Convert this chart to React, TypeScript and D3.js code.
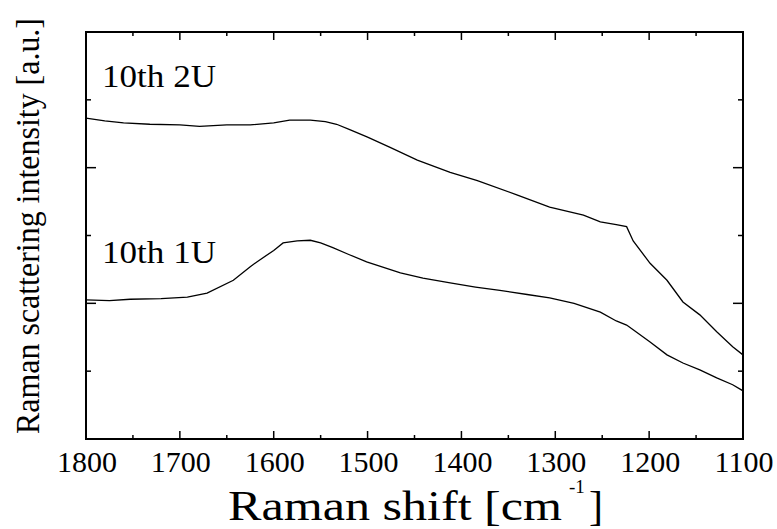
import React from "react";
import * as d3 from "d3";

const shift2U = [1800, 1780, 1760, 1732, 1700, 1679, 1650, 1625, 1600, 1583, 1561, 1545, 1533, 1519, 1500, 1476, 1447, 1412, 1383, 1341, 1306, 1270, 1252, 1235, 1224, 1217, 1199, 1181, 1164, 1146, 1128, 1111, 1100];
const intensity2U = [4.73, 4.69, 4.66, 4.64, 4.63, 4.61, 4.63, 4.63, 4.66, 4.70, 4.70, 4.68, 4.64, 4.56, 4.45, 4.30, 4.11, 3.93, 3.81, 3.60, 3.42, 3.30, 3.20, 3.16, 3.13, 2.92, 2.59, 2.34, 2.02, 1.83, 1.58, 1.36, 1.24];

const shift1U = [1800, 1775, 1753, 1720, 1692, 1671, 1643, 1625, 1618, 1600, 1590, 1575, 1561, 1550, 1537, 1520, 1501, 1465, 1441, 1412, 1385, 1359, 1330, 1306, 1280, 1252, 1235, 1224, 1217, 1199, 1181, 1164, 1146, 1128, 1111, 1100];
const intensity1U = [2.05, 2.04, 2.06, 2.07, 2.09, 2.15, 2.34, 2.54, 2.61, 2.78, 2.89, 2.92, 2.93, 2.89, 2.82, 2.72, 2.61, 2.45, 2.37, 2.30, 2.24, 2.19, 2.13, 2.08, 2.00, 1.87, 1.74, 1.68, 1.61, 1.43, 1.24, 1.12, 1.02, 0.90, 0.80, 0.71];

const xMajorTicks = [1800, 1700, 1600, 1500, 1400, 1300, 1200, 1100];
const xMinorTicks = [1750, 1650, 1550, 1450, 1350, 1250, 1150];
const yMajorTicks = [2, 4];
const yMinorTicks = [1, 3, 5];

const seriesLabels = ["10th 2U", "10th 1U"];

const W = 777;
const H = 529;
const L = 86, R = 743, T = 32, B = 439;
const FONT = "'Liberation Serif', 'Times New Roman', serif";

export default function App() {
  const x = d3.scaleLinear().domain([1800, 1100]).range([L, R]);
  const y = d3.scaleLinear().domain([0, 6]).range([B, T]);
  const line = d3
    .line<[number, number]>()
    .x((d) => x(d[0]))
    .y((d) => y(d[1]));
  const d2 = line(shift2U.map((s, i) => [s, intensity2U[i]] as [number, number])) || "";
  const d1 = line(shift1U.map((s, i) => [s, intensity1U[i]] as [number, number])) || "";

  return (
    <svg
      width={W}
      height={H}
      style={{ position: "absolute", left: 0, top: 0, background: "#fff" }}
      fontFamily={FONT}
    >
      <rect x={0} y={0} width={W} height={H} fill="#fff" />
      <defs>
        <clipPath id="plot">
          <rect x={L} y={T} width={R - L} height={B - T} />
        </clipPath>
      </defs>
      <g clipPath="url(#plot)" fill="none" stroke="#000" strokeWidth={1.3}>
        <path d={d2} />
        <path d={d1} />
      </g>
      <g stroke="#000" strokeWidth={1.5}>
        {xMajorTicks.map((t) => (
          <g key={"xM" + t}>
            <line x1={x(t)} x2={x(t)} y1={B} y2={B - 8} />
            <line x1={x(t)} x2={x(t)} y1={T} y2={T + 8} />
          </g>
        ))}
        {xMinorTicks.map((t) => (
          <g key={"xm" + t}>
            <line x1={x(t)} x2={x(t)} y1={B} y2={B - 4} />
            <line x1={x(t)} x2={x(t)} y1={T} y2={T + 4} />
          </g>
        ))}
        {yMajorTicks.map((t) => (
          <g key={"yM" + t}>
            <line x1={L} x2={L + 10} y1={y(t)} y2={y(t)} />
            <line x1={R} x2={R - 10} y1={y(t)} y2={y(t)} />
          </g>
        ))}
        {yMinorTicks.map((t) => (
          <g key={"ym" + t}>
            <line x1={L} x2={L + 5} y1={y(t)} y2={y(t)} />
            <line x1={R} x2={R - 5} y1={y(t)} y2={y(t)} />
          </g>
        ))}
      </g>
      <rect x={L} y={T} width={R - L} height={B - T} fill="none" stroke="#000" strokeWidth={2} />
      <g fontSize={30} textAnchor="middle" fill="#000">
        {xMajorTicks.map((t) => (
          <text key={"lab" + t} x={x(t) + 1} y={472}>
            {t}
          </text>
        ))}
      </g>
      <text x={102} y={87} fontSize={32} textLength={114} lengthAdjust="spacingAndGlyphs">
        {seriesLabels[0]}
      </text>
      <text x={102} y={263} fontSize={32} textLength={114} lengthAdjust="spacingAndGlyphs">
        {seriesLabels[1]}
      </text>
      <text x={228} y={520} fontSize={42} textLength={334} lengthAdjust="spacingAndGlyphs">
        Raman shift [cm
      </text>
      <text x={569} y={493} fontSize={19}>
        -1
      </text>
      <text x={589} y={520} fontSize={42}>
        ]
      </text>
      <text
        transform={`translate(39, 226) rotate(-90)`}
        textAnchor="middle"
        fontSize={33}
        textLength={416}
        lengthAdjust="spacingAndGlyphs"
      >
        Raman scattering intensity [a.u.]
      </text>
    </svg>
  );
}
